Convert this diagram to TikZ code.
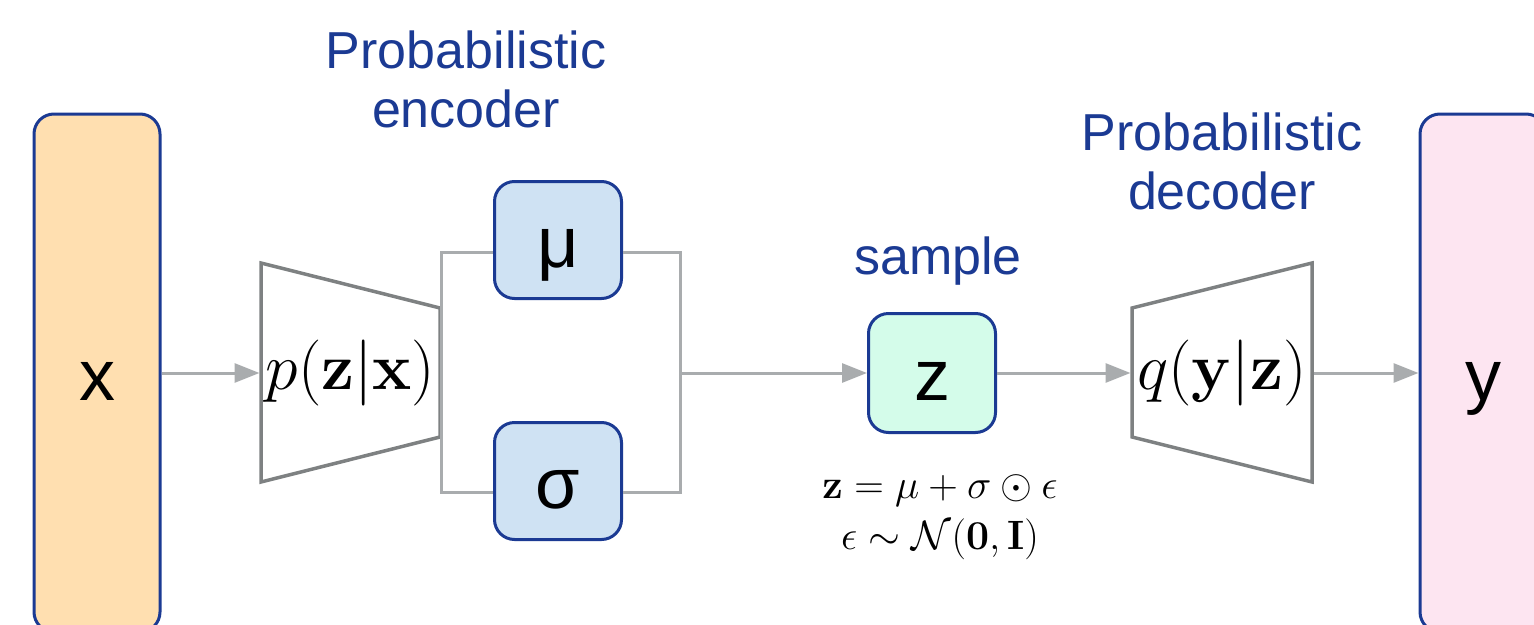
\RequirePackage{fix-cm}
\documentclass[tikz,border=0pt]{standalone}
\usepackage[no-math]{fontspec}
\usetikzlibrary{arrows.meta}
\newfontfamily\labelfont{Liberation Sans}
\definecolor{navy}{HTML}{1B3A93}
\definecolor{wire}{HTML}{A9ACAE}
\definecolor{funnel}{HTML}{7E8182}
\definecolor{peach}{HTML}{FFDFB0}
\definecolor{ice}{HTML}{CFE2F3}
\definecolor{mint}{HTML}{D4FCEA}
\definecolor{blush}{HTML}{FDE5F1}

\begin{document}
\begin{tikzpicture}[x=1pt, y=-1pt, line width=3pt,
  box/.style={draw=navy, rounded corners=20pt, inner sep=0pt,
    text height=54pt, text depth=0pt,
    font=\labelfont\fontsize{72}{80}\selectfont},
  title/.style={text=navy, align=center, font=\labelfont\fontsize{52}{59}\selectfont},
  wirel/.style={draw=wire, line width=3pt},
  arrow/.style={wirel, -{Triangle[length=25pt,width=19pt]}},
  trap/.style={draw=funnel, line width=3.5pt, line join=miter}]
  \clip (0,0) rectangle (1534,624);
  % input / output columns
  \node[box, fill=peach, minimum width=126pt, minimum height=518pt] (xin) at (97,373) {x};
  \node[box, fill=blush, minimum width=126pt, minimum height=518pt] (yout) at (1483,373) {y};
  % encoder and decoder funnels
  \draw[trap] (261,263) -- (440,308) -- (440,437) -- (261,482) -- cycle;
  \draw[trap] (1312,263) -- (1132,308) -- (1132,437) -- (1312,482) -- cycle;
  \node[inner sep=0pt, minimum width=179pt, font=\fontsize{66}{70}\selectfont] (enc) at (350.5,373)
    {$p(\mathbf{z}|\mathbf{x})$};
  \node[inner sep=0pt, minimum width=180pt, font=\fontsize{66}{70}\selectfont] (dec) at (1222,373)
    {$q(\mathbf{y}|\mathbf{z})$};
  % mean and deviation
  \node[box, fill=ice, minimum width=127pt, minimum height=117pt] (mu) at (558,240) {μ};
  \node[box, fill=ice, minimum width=127pt, minimum height=117pt] (sigma) at (558,481) {σ};
  \node[box, fill=mint, minimum width=127pt, minimum height=119pt] (z) at (932,373) {z};
  % split and merge wires
  \coordinate (splitT) at (441,252);
  \coordinate (splitB) at (441,492);
  \coordinate (mergeT) at (680,252);
  \coordinate (mergeB) at (680,492);
  \coordinate (merge) at (680,373);
  \draw[wirel] (mu.west |- splitT) -- (splitT) -- (splitB) -- (sigma.west |- splitB);
  \draw[wirel] (mu.east |- mergeT) -- (mergeT) -- (mergeB) -- (sigma.east |- mergeB);
  \draw[arrow] (xin.east) -- (enc.west);
  \draw[arrow] (merge) -- (z.west);
  \draw[arrow] (z.east) -- (dec.west);
  \draw[arrow] (dec.east) -- (yout.west);
  % labels
  \node[title] (enclabel) at (466,79) {Probabilistic\\encoder};
  \node[title] (declabel) at (1222,161) {Probabilistic\\decoder};
  \node[title] (samplelabel) at (938,261) {sample};
  \node[align=center, font=\fontsize{41}{51}\selectfont] (reparam) at (940,517)
    {$\mathbf{z}=\mu+\sigma\odot\epsilon$\\$\epsilon\sim\mathcal{N}(\mathbf{0},\mathbf{I})$};
\end{tikzpicture}
\end{document}
